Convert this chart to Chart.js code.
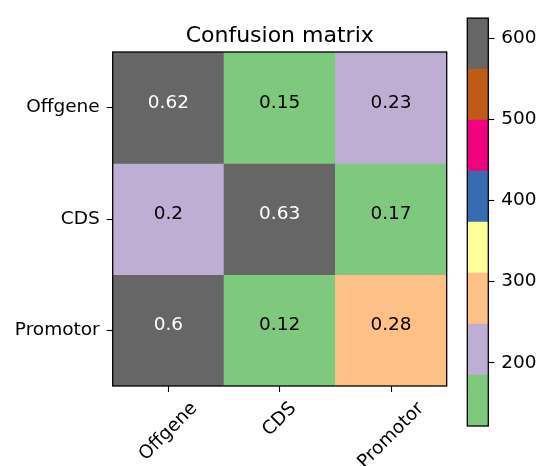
<!DOCTYPE html>
<html>
<head>
<meta charset="utf-8">
<script src="https://cdn.jsdelivr.net/npm/chart.js@4.4.1/dist/chart.umd.min.js"></script>
<style>
  html, body { margin: 0; padding: 0; background: #fff; overflow: hidden; }
  #wrap { position: relative; width: 539px; height: 466px; }
  #matrix { position: absolute; left: 0; top: 0; }
  #cbar { position: absolute; left: 440px; top: 0; }
</style>
</head>
<body>
<div id="wrap">
  <canvas id="matrix" width="539" height="466"></canvas>
  <canvas id="cbar" width="99" height="466"></canvas>
</div>
<script>
// classes (rows = true label, columns = predicted label)
var classes = ['Offgene', 'CDS', 'Promotor'];
// numbers written in the cells (row-normalised)
var normValues = [
    [0.62, 0.15, 0.23],
    [0.2, 0.63, 0.17],
    [0.6, 0.12, 0.28]
];
// raw counts
var counts = [
    [618, 150, 232],
    [198, 625, 169],
    [610, 122, 285]
];
// Accent colormap, 8 steps
var cmapColors = ['#7fc97f', '#beaed4', '#fdc086', '#ffff99', '#386cb0', '#f0027f', '#bf5b17', '#666666'];
var colorbarTicks = [200, 300, 400, 500, 600];

var titleText = 'Confusion matrix';
var tickSize = 18.5;
var fontFamily = '"DejaVu Sans", sans-serif';

Chart.defaults.font.family = fontFamily;
Chart.defaults.color = '#000';

var flat = counts.reduce(function(a, r) { return a.concat(r); }, []);
var vmin = Math.min.apply(null, flat);
var vmax = Math.max.apply(null, flat);
var normMax = Math.max.apply(null, normValues.reduce(function(a, r) { return a.concat(r); }, []));

function colorFor(v) {
    var idx = Math.floor((v - vmin) / (vmax - vmin) * cmapColors.length);
    if (idx >= cmapColors.length) idx = cmapColors.length - 1;
    if (idx < 0) idx = 0;
    return cmapColors[idx];
}

// one floating-bar dataset per row, top row sits in [2,3]
var nRows = classes.length;
var matrixDatasets = classes.map(function(name, r) {
    return {
        label: name,
        data: classes.map(function() { return [nRows - r - 1, nRows - r]; }),
        backgroundColor: counts[r].map(colorFor),
        borderWidth: 0,
        barPercentage: 1,
        categoryPercentage: 1
    };
});

var frame = {
    id: 'frame',
    afterDraw: function(chart) {
        var a = chart.chartArea, ctx = chart.ctx;
        ctx.save();
        ctx.strokeStyle = '#000';
        ctx.lineWidth = 1.3;
        ctx.strokeRect(a.left, a.top, a.right - a.left, a.bottom - a.top);
        ctx.restore();
    }
};

var cellText = {
    id: 'cellText',
    afterDatasetsDraw: function(chart) {
        var ctx = chart.ctx, xs = chart.scales.x, ys = chart.scales.y;
        ctx.save();
        ctx.font = tickSize + 'px ' + fontFamily;
        ctx.textAlign = 'center';
        ctx.textBaseline = 'alphabetic';
        for (var r = 0; r < nRows; r++) {
            for (var c = 0; c < classes.length; c++) {
                var v = normValues[r][c];
                ctx.fillStyle = v > normMax / 2 ? '#fff' : '#000';
                ctx.fillText(String(v), xs.getPixelForValue(c), ys.getPixelForValue(nRows - r - 0.5));
            }
        }
        ctx.restore();
    }
};

// title and rotated x labels (centred on their ticks, like matplotlib)
var extraText = {
    id: 'extraText',
    afterDraw: function(chart) {
        var ctx = chart.ctx, a = chart.chartArea, xs = chart.scales.x;
        ctx.save();
        ctx.fillStyle = '#000';
        ctx.font = '22px ' + fontFamily;
        ctx.textAlign = 'center';
        ctx.textBaseline = 'alphabetic';
        ctx.fillText(titleText, (a.left + a.right) / 2, 42);

        ctx.font = tickSize + 'px ' + fontFamily;
        classes.forEach(function(lab, i) {
            var w = ctx.measureText(lab).width;
            var h = tickSize * 1.164;
            var half = (w + h) * Math.SQRT1_2 / 2;
            ctx.save();
            ctx.translate(xs.getPixelForValue(i), a.bottom + 12 + half);
            ctx.rotate(-Math.PI / 4);
            ctx.textAlign = 'center';
            ctx.textBaseline = 'middle';
            ctx.fillText(lab, 0, 0);
            ctx.restore();
        });
        ctx.restore();
    }
};

var matrixChart = new Chart(document.getElementById('matrix'), {
    type: 'bar',
    data: { labels: classes, datasets: matrixDatasets },
    options: {
        responsive: false,
        animation: false,
        devicePixelRatio: 1,
        layout: { padding: { left: 0, top: 52, right: 539 - 446.7, bottom: 0 } },
        datasets: { bar: { grouped: false } },
        plugins: { legend: { display: false }, tooltip: { enabled: false } },
        scales: {
            x: {
                type: 'category',
                offset: true,
                grid: { display: true, offset: false, drawOnChartArea: false, drawTicks: true, tickLength: 6, tickColor: '#000', tickWidth: 1.1 },
                border: { display: false },
                ticks: { display: false },
                afterFit: function(s) { s.height = 466 - 386; }
            },
            y: {
                type: 'linear',
                min: 0,
                max: nRows,
                grid: { display: true, drawOnChartArea: false, drawTicks: true, tickLength: 6, tickColor: '#000', tickWidth: 1.1 },
                border: { display: false },
                afterBuildTicks: function(s) {
                    s.ticks = classes.map(function(n, r) { return { value: nRows - r - 0.5 }; });
                },
                ticks: {
                    font: { size: tickSize },
                    padding: 7,
                    callback: function(v) { return classes[nRows - 1 - Math.floor(v)]; }
                },
                afterFit: function(s) { s.width = 112.7; }
            }
        }
    },
    plugins: [cellText, frame, extraText]
});

// colour bar
var step = (vmax - vmin) / cmapColors.length;
var cbarDatasets = cmapColors.map(function(col, i) {
    return {
        data: [[vmin + i * step, vmin + (i + 1) * step]],
        backgroundColor: col,
        borderWidth: 0,
        barPercentage: 1,
        categoryPercentage: 1
    };
});

var cbarChart = new Chart(document.getElementById('cbar'), {
    type: 'bar',
    data: { labels: [''], datasets: cbarDatasets },
    options: {
        responsive: false,
        animation: false,
        devicePixelRatio: 1,
        layout: { padding: { left: 27.3, top: 12.3, right: 0, bottom: 40 } },
        datasets: { bar: { grouped: false } },
        plugins: { legend: { display: false }, tooltip: { enabled: false } },
        scales: {
            x: { display: false, offset: true },
            y: {
                type: 'linear',
                position: 'right',
                min: vmin,
                max: vmax,
                grid: { display: true, drawOnChartArea: false, drawTicks: true, tickLength: 6, tickColor: '#000', tickWidth: 1.1 },
                border: { display: false },
                afterBuildTicks: function(s) {
                    s.ticks = colorbarTicks.map(function(v) { return { value: v }; });
                },
                ticks: { font: { size: tickSize }, padding: 7 },
                afterFit: function(s) { s.width = 99 - 48.3; }
            }
        }
    },
    plugins: [frame]
});
</script>
</body>
</html>
